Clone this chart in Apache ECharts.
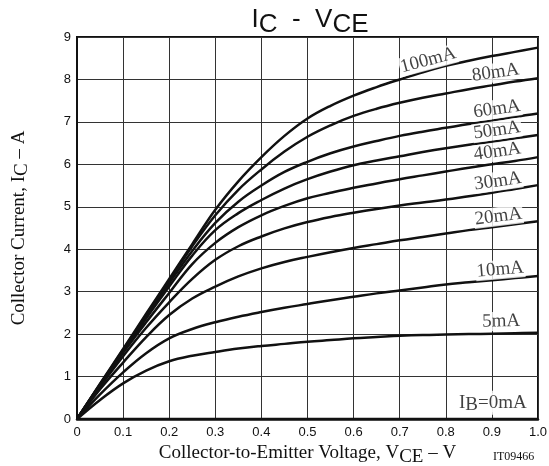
<!DOCTYPE html>
<html>
<head>
<meta charset="utf-8">
<script src="https://cdn.jsdelivr.net/npm/echarts@6/dist/echarts.min.js"></script>
<style>
html,body{margin:0;padding:0;background:#fff;}
#chart{width:549px;height:466px;}
</style>
</head>
<body>
<div id="chart"></div>
<script>
// ---- data ----
const vce   = [0, 0.05, 0.1, 0.15, 0.2, 0.25, 0.3, 0.35, 0.4, 0.45, 0.5, 0.55, 0.6, 0.65, 0.7, 0.75, 0.8, 0.85, 0.9, 0.95, 1.0];
const ib100 = [0, 0.83, 1.65, 2.48, 3.3, 4.12, 4.93, 5.6, 6.17, 6.67, 7.08, 7.38, 7.62, 7.82, 8.0, 8.17, 8.32, 8.44, 8.55, 8.65, 8.75];
const ib80  = [0, 0.82, 1.63, 2.45, 3.26, 4.07, 4.8, 5.4, 5.88, 6.3, 6.65, 6.92, 7.14, 7.31, 7.45, 7.57, 7.67, 7.77, 7.86, 7.95, 8.03];
const ib60  = [0, 0.81, 1.61, 2.41, 3.2, 3.96, 4.62, 5.12, 5.5, 5.82, 6.06, 6.26, 6.42, 6.55, 6.67, 6.77, 6.86, 6.95, 7.03, 7.12, 7.2];
const ib50  = [0, 0.8, 1.59, 2.37, 3.12, 3.85, 4.45, 4.85, 5.16, 5.43, 5.65, 5.83, 5.98, 6.09, 6.19, 6.29, 6.38, 6.46, 6.53, 6.61, 6.69];
const ib40  = [0, 0.79, 1.56, 2.28, 2.97, 3.65, 4.15, 4.52, 4.8, 5.02, 5.2, 5.33, 5.45, 5.55, 5.65, 5.74, 5.83, 5.92, 6.0, 6.08, 6.17];
const ib30  = [0, 0.76, 1.48, 2.15, 2.75, 3.3, 3.75, 4.07, 4.3, 4.49, 4.64, 4.76, 4.86, 4.95, 5.03, 5.1, 5.17, 5.25, 5.33, 5.42, 5.51];
const ib20  = [0, 0.7, 1.33, 1.93, 2.45, 2.84, 3.12, 3.36, 3.55, 3.7, 3.82, 3.93, 4.03, 4.12, 4.21, 4.29, 4.37, 4.45, 4.52, 4.59, 4.66];
const ib10  = [0, 0.58, 1.1, 1.55, 1.9, 2.12, 2.28, 2.41, 2.52, 2.62, 2.71, 2.8, 2.88, 2.96, 3.03, 3.1, 3.17, 3.22, 3.27, 3.32, 3.37];
const ib5   = [0, 0.45, 0.84, 1.14, 1.36, 1.49, 1.58, 1.66, 1.72, 1.77, 1.82, 1.86, 1.9, 1.93, 1.96, 1.98, 1.99, 2.0, 2.01, 2.02, 2.03];
const ib0   = [0, 0, 0, 0, 0, 0, 0, 0, 0, 0, 0, 0, 0, 0, 0, 0, 0, 0, 0, 0, 0];
const curveNames  = ['100mA', '80mA', '60mA', '50mA', '40mA', '30mA', '20mA', '10mA', '5mA', '0mA'];
const curveValues = [ib100, ib80, ib60, ib50, ib40, ib30, ib20, ib10, ib5, ib0];
const xTickLabels = ['0', '0.1', '0.2', '0.3', '0.4', '0.5', '0.6', '0.7', '0.8', '0.9', '1.0'];
const yTickLabels = ['0', '1', '2', '3', '4', '5', '6', '7', '8', '9'];

// ---- annotation placement (data coords) ----
const annotations = [
  { text: '100mA', at: [0.762, 8.45], rotate: 15 },
  { text: '80mA',  at: [0.908, 8.16], rotate: 8 },
  { text: '60mA',  at: [0.911, 7.3],  rotate: 8 },
  { text: '50mA',  at: [0.911, 6.8],  rotate: 8 },
  { text: '40mA',  at: [0.912, 6.3],  rotate: 8 },
  { text: '30mA',  at: [0.913, 5.6],  rotate: 8 },
  { text: '20mA',  at: [0.914, 4.77], rotate: 7 },
  { text: '10mA',  at: [0.918, 3.52], rotate: 5 },
  { text: '5mA',   at: [0.92, 2.3],   rotate: 1 },
  { text: '{n|I}{s|B}{n|=0mA}', at: [0.902, 0.38], rotate: 0 }
];

const serif = '"Liberation Serif", "Times New Roman", serif';
const sans = '"Liberation Sans", Arial, Helvetica, sans-serif';

const chart = echarts.init(document.getElementById('chart'), null, { renderer: 'canvas' });

const lineSeries = curveNames.map((name, i) => ({
  name: name,
  type: 'line',
  smooth: 0.4,
  symbol: 'none',
  data: vce.map((x, j) => [x, curveValues[i][j]]),
  lineStyle: { color: '#111', width: 2.5 },
  z: 3,
  animation: false
}));

const labelFont = 19;
const annoSeries = {
  type: 'scatter',
  symbolSize: 0,
  z: 5,
  animation: false,
  silent: true,
  data: annotations.map(a => ({
    value: a.at,
    label: {
      show: true,
      position: 'inside',
      formatter: a.text,
      rotate: a.rotate,
      fontFamily: serif,
      fontSize: labelFont,
      color: '#111',
      backgroundColor: '#fff',
      padding: [0, 1, 0, 1],
      rich: {
        n: { fontFamily: serif, fontSize: labelFont, color: '#111', lineHeight: 24, backgroundColor: '#fff' },
        s: { fontFamily: serif, fontSize: labelFont, color: '#111', lineHeight: 14, verticalAlign: 'bottom', backgroundColor: '#fff' }
      }
    }
  }))
};

const nameRich = {
  n: { fontFamily: serif, fontSize: 19, color: '#111', lineHeight: 26 },
  s: { fontFamily: serif, fontSize: 19, color: '#111', lineHeight: 16, verticalAlign: 'bottom' }
};

chart.setOption({
  backgroundColor: '#fff',
  animation: false,
  title: {
    text: '{n|I}{s|C}{n|  -  V}{s|CE}',
    left: 305,
    top: -3,
    textAlign: 'center',
    textStyle: {
      fontWeight: 'normal',
      rich: {
        n: { fontFamily: sans, fontSize: 26, fontWeight: 'normal', color: '#111', lineHeight: 36 },
        s: { fontFamily: sans, fontSize: 26, fontWeight: 'normal', color: '#111', lineHeight: 26, verticalAlign: 'bottom' }
      }
    }
  },
  grid: {
    left: 77, right: 11, top: 37, bottom: 47,
    show: true, borderColor: '#111', borderWidth: 2,
    containLabel: false, outerBoundsMode: 'none'
  },
  xAxis: {
    type: 'value', min: 0, max: 1, interval: 0.1,
    axisLine: { show: true, lineStyle: { color: '#111', width: 2.5 } },
    axisTick: { show: false },
    splitLine: { show: true, lineStyle: { color: '#333', width: 1 } },
    axisLabel: {
      margin: 7, fontFamily: sans, fontSize: 13, color: '#111',
      formatter: (v) => xTickLabels[Math.round(v * 10)]
    },
    name: '{n|Collector-to-Emitter Voltage, V}{s|CE}{n| – V}',
    nameLocation: 'middle',
    nameGap: 21,
    nameTextStyle: { rich: nameRich }
  },
  yAxis: {
    type: 'value', min: 0, max: 9, interval: 1,
    axisLine: { show: true, lineStyle: { color: '#111', width: 2 } },
    axisTick: { show: false },
    splitLine: { show: true, lineStyle: { color: '#333', width: 1 } },
    axisLabel: {
      margin: 6, fontFamily: sans, fontSize: 13, color: '#111',
      formatter: (v) => yTickLabels[Math.round(v)]
    },
    name: '{n|Collector Current, I}{s|C}{n| – A}',
    nameLocation: 'middle',
    nameGap: 45,
    nameTextStyle: { rich: nameRich }
  },
  graphic: [{
    type: 'text',
    left: 493,
    top: 451,
    style: { text: 'IT09466', font: '12px ' + serif, fill: '#111' }
  }],
  series: lineSeries.concat([annoSeries])
});
</script>
</body>
</html>
